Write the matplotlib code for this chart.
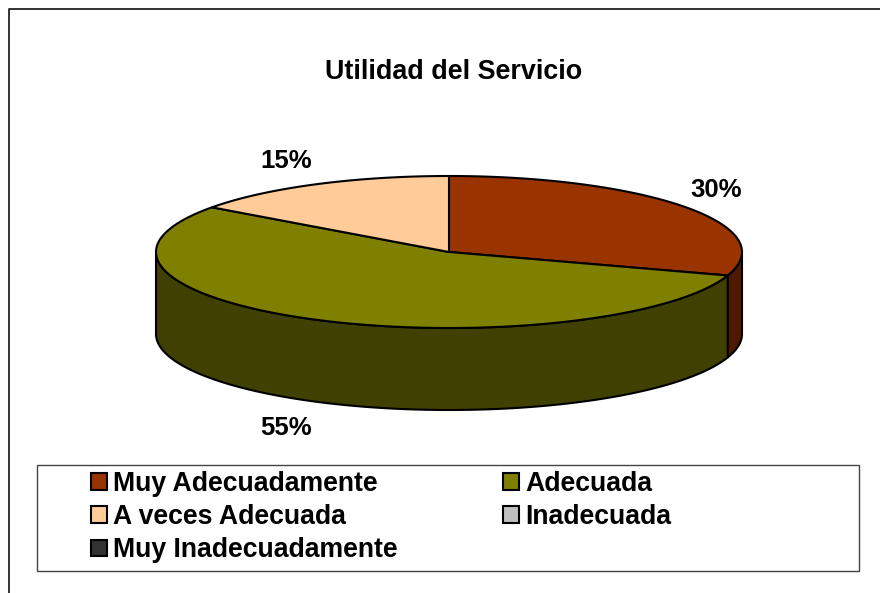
# -*- coding: utf-8 -*-

# Import required libraries
import matplotlib
matplotlib.use('Agg')
import matplotlib.pyplot as plt
from matplotlib.patches import Patch, Polygon, Rectangle
import numpy as np

plt.rcParams['font.family'] = ['Liberation Sans', 'DejaVu Sans']
plt.rcParams['font.weight'] = 'bold'

# Data
categories = ['Muy Adecuadamente', 'Adecuada', 'A veces Adecuada',
              'Inadecuada', 'Muy Inadecuadamente']
values = [30, 55, 15, 0, 0]
title = 'Utilidad del Servicio'

# Colors
top_colors = ['#993300', '#808000', '#FFCC99', '#C0C0C0', '#333333']
side_colors = ['#4D1A00', '#404000', '#806633', '#606060', '#1A1A1A']

# Pie geometry, in pixels of the picture
cx, cy = 449, 252
rx, ry = 293, 76
depth = 82


def ring(t, dy=0):
    # t is in degrees clockwise from 12 o'clock
    rad = np.radians(t)
    return np.column_stack((cx + rx*np.sin(rad), cy + dy - ry*np.cos(rad)))


fig = plt.figure(figsize=(8.8, 5.93), dpi=100)
ax = fig.add_axes([0, 0, 1, 1])
ax.set_xlim(0, 880)
ax.set_ylim(593, 0)
ax.axis('off')

# Outer frame, open at the right and at the bottom
ax.plot([9, 9, 880], [593, 9, 9], color='#111111', lw=1.2)

# Slice limits
shares = np.array(values)/sum(values)*360
ends = np.cumsum(shares)
starts = ends - shares

# Walls first, only the front half of the pie is seen
for a, b, col in zip(starts, ends, side_colors):
    a2, b2 = max(a, 90), min(b, 270)
    if b2 <= a2:
        continue
    t = np.linspace(a2, b2, 200)
    pts = np.vstack((ring(t), ring(t[::-1], depth)))
    ax.add_patch(Polygon(pts, closed=True, fc=col, ec='black', lw=1.5))

# Top of the pie
for a, b, col in zip(starts, ends, top_colors):
    if b <= a:
        continue
    t = np.linspace(a, b, 300)
    pts = np.vstack(([[cx, cy]], ring(t)))
    ax.add_patch(Polygon(pts, closed=True, fc=col, ec='black', lw=1.5,
                         joinstyle='round'))

# Labels
label_pos = [(716, 190), (286, 428), (286, 161)]
for v, (x, y) in zip(values, label_pos):
    ax.text(x, y, '%d%%' % v, fontsize=18.5, ha='center', va='center')

ax.text(454, 72, title, fontsize=19.4, ha='center', va='center')

# Legend box
ax.add_patch(Rectangle((36.5, 465), 822, 106, fc='white', ec='#444444', lw=1))

# Matplotlib fills the columns first
order = [0, 2, 4, 1, 3]
handles = [Patch(fc=top_colors[i], ec='black', lw=1.5) for i in order]
names = [categories[i] for i in order]
ax.legend(handles, names, ncol=2, frameon=False, fontsize=19.2,
          loc='upper left', bbox_to_anchor=(86/880, 1 - 465.6/593),
          bbox_transform=fig.transFigure, borderaxespad=0, borderpad=0.2,
          handlelength=0.58, handleheight=0.58, handletextpad=0.25,
          labelspacing=0.27, columnspacing=3.94)

plt.savefig('out.png', dpi=100)
